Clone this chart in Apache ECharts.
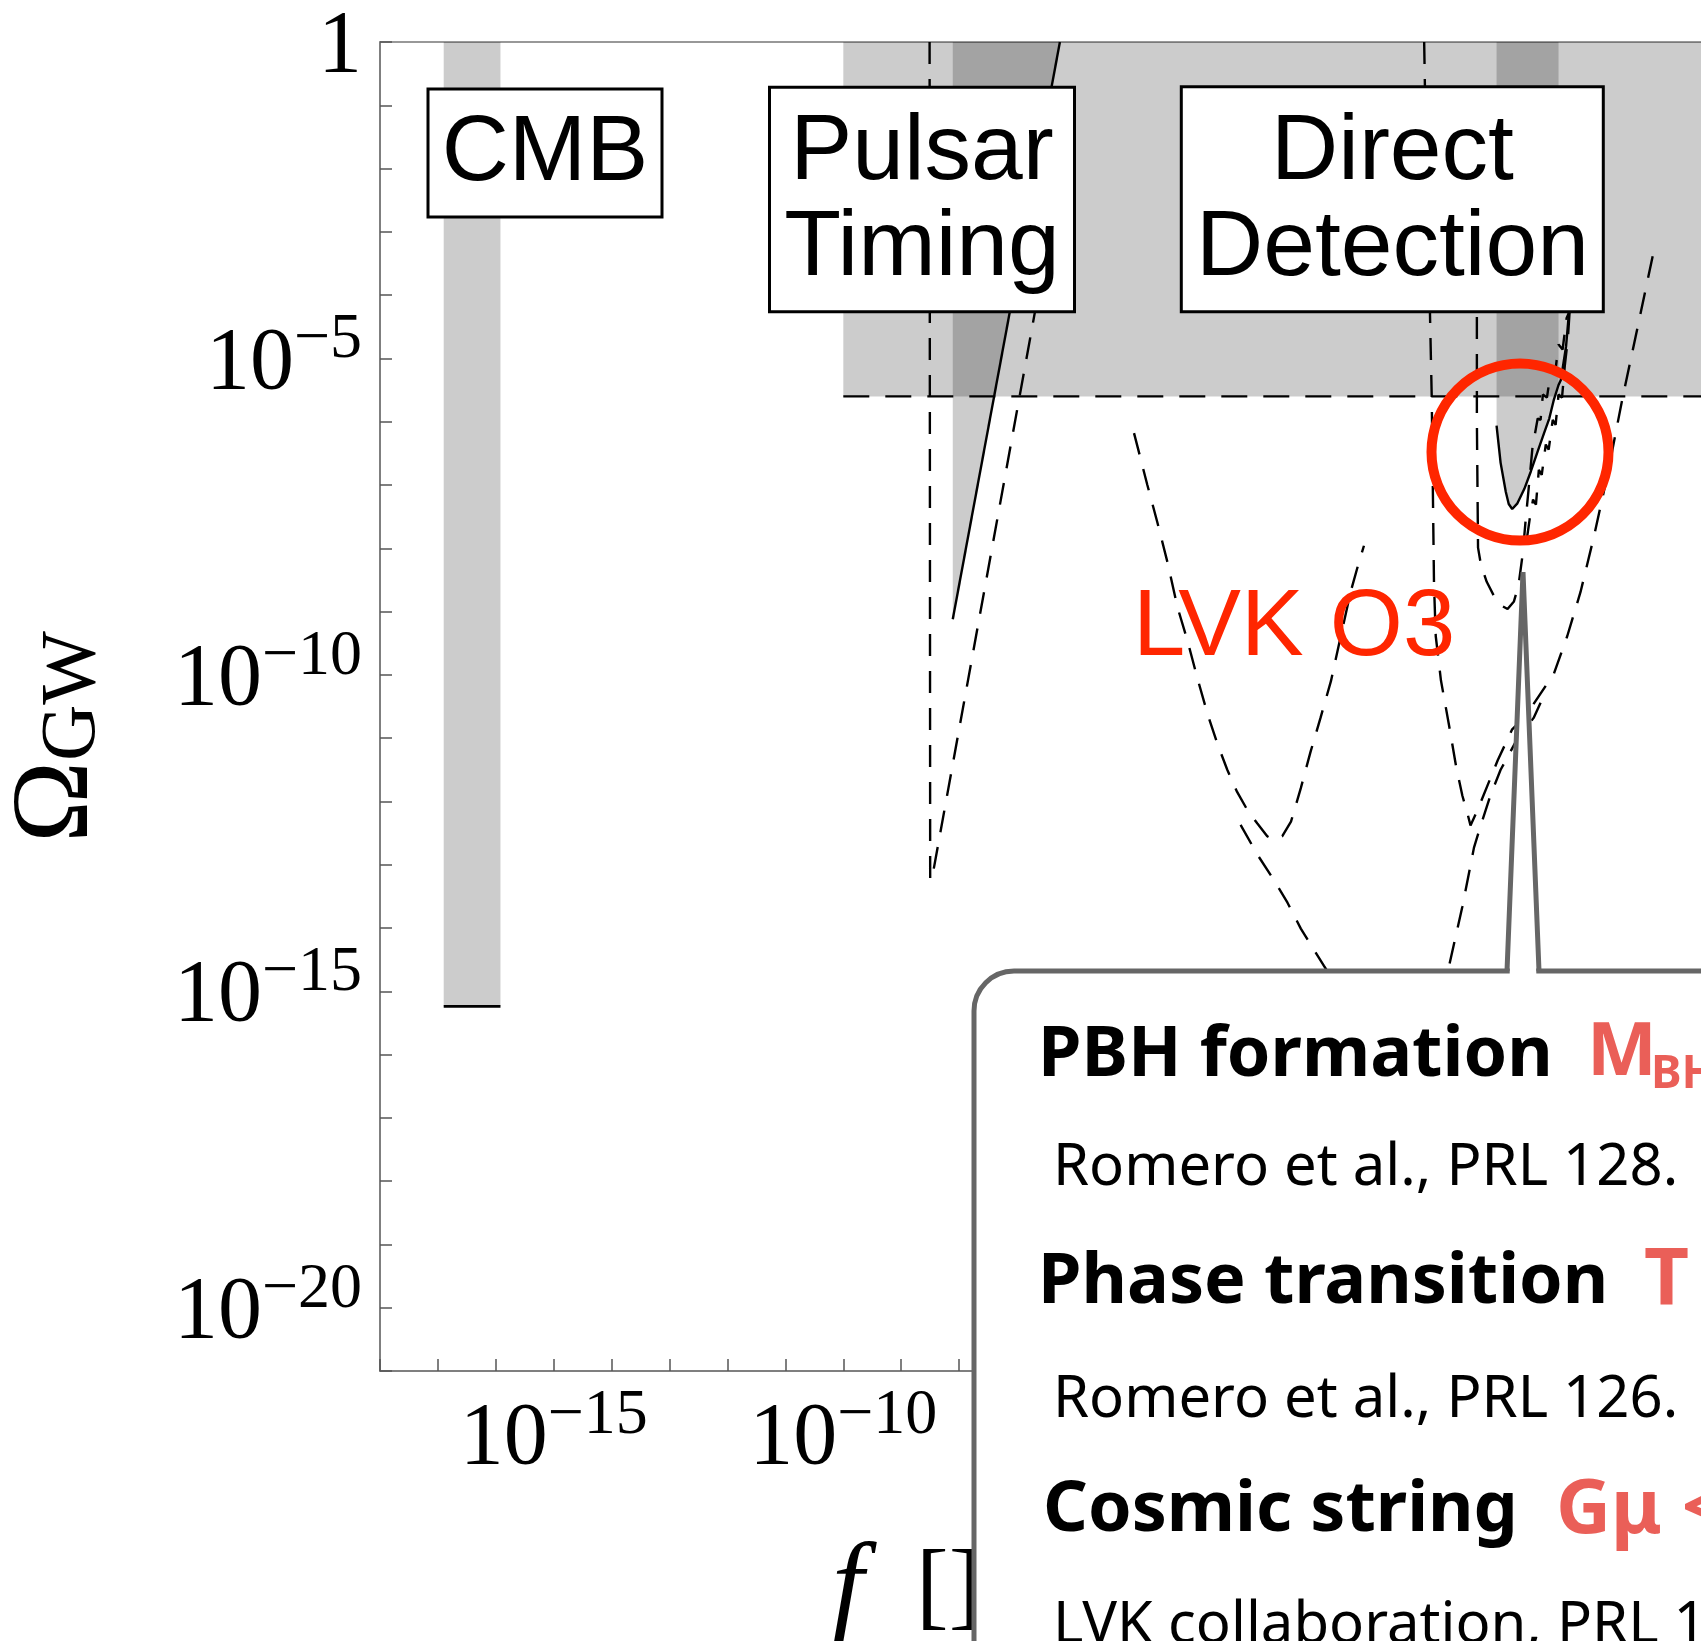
<!DOCTYPE html>
<html><head><meta charset="utf-8">
<script src="https://cdn.jsdelivr.net/npm/echarts@6/dist/echarts.min.js"></script>
<style>html,body{margin:0;padding:0;background:#fff}#c{width:1701px;height:1641px}</style>
</head><body><div id="c"></div>
<script>
// ---- axis ranges (log10 units) ----
const xLogMin = -18, xLogMax = 5;
const yLogMin = -21, yLogMax = 0;
const labelStep = 5;

// ---- data: [log10 f, log10 Omega_GW] ----
const cmbBand   = [[-16.90, -15.24], [-15.92, -15.24]];
const bbnLimit  = [[-10.0, -5.6], [5.0, -5.6]];
const ptaBound  = [[-8.11, -9.12], [-6.26, 0.0]];
const skaCurve  = [[-8.51, 0.0], [-8.50, -13.21], [-8.475, -13.25], [-6.69, -4.26], [-6.30, -2.2]];
const lisaCurve = [[-4.98, -6.18], [-4.75, -7.00], [-4.58, -7.58], [-4.40, -8.23], [-4.23, -8.93], [-4.06, -9.45],
  [-3.89, -10.04], [-3.71, -10.62], [-3.54, -11.09], [-3.37, -11.50], [-3.20, -11.85], [-3.02, -12.14],
  [-2.85, -12.35], [-2.68, -12.55], [-2.56, -12.61], [-2.42, -12.55], [-2.27, -12.32], [-2.10, -11.79],
  [-1.93, -11.21], [-1.76, -10.68], [-1.58, -10.10], [-1.41, -9.39], [-1.24, -8.69], [-1.10, -8.23], [-1.01, -7.96]];
const midCurve  = [[-3.14, -12.37], [-2.85, -12.84], [-2.56, -13.25], [-2.33, -13.60], [-2.10, -14.01], [-1.70, -14.60], [-1.33, -15.13]];
const etCurve   = [[0.03, 0.0], [0.09, -3.28], [0.13, -4.28], [0.16, -5.59], [0.20, -8.58], [0.23, -9.39], [0.32, -10.09],
  [0.46, -10.80], [0.58, -11.44], [0.69, -11.91], [0.78, -12.20], [0.83, -12.38], [0.95, -12.14], [1.18, -11.62],
  [1.30, -11.35], [1.55, -10.86], [1.78, -10.65], [2.27, -9.98], [2.50, -9.39], [2.73, -8.69], [2.96, -7.82],
  [3.20, -6.82], [3.45, -5.65], [4.00, -3.28]];
const ceCurve   = [[0.32, -15.13], [0.46, -14.60], [0.69, -13.66], [0.89, -12.73], [1.01, -12.37], [1.18, -11.89],
  [1.35, -11.50], [1.61, -11.06], [1.92, -10.68], [2.04, -10.44]];
const ligoCurve = [[0.94, -3.76], [0.94, -5.97], [0.96, -7.99], [1.01, -8.26], [1.11, -8.53], [1.25, -8.78], [1.37, -8.91],
  [1.47, -8.96], [1.58, -8.84], [1.66, -8.58], [1.73, -8.10], [1.78, -7.58], [1.84, -7.00], [1.90, -6.41], [1.99, -5.95],
  [2.04, -5.97], [2.08, -5.57], [2.15, -5.62], [2.22, -5.18], [2.29, -5.24], [2.35, -4.78], [2.42, -4.86], [2.49, -4.36],
  [2.53, -4.28], [2.58, -3.70]];
const o3Jagged  = [[1.80, -7.87], [1.85, -7.55], [1.91, -7.23], [1.96, -7.31], [2.01, -6.76], [2.06, -6.84], [2.13, -6.36],
  [2.18, -6.44], [2.25, -5.97], [2.30, -6.05], [2.35, -5.57], [2.41, -5.62], [2.46, -5.10], [2.51, -4.70], [2.54, -4.28], [2.58, -3.70]];
const lvkO3Curve = [[1.28, -6.06], [1.35, -6.65], [1.44, -7.11], [1.49, -7.30], [1.55, -7.38], [1.64, -7.29], [1.76, -7.06],
  [1.87, -6.79], [1.99, -6.47], [2.10, -6.18], [2.19, -5.95], [2.27, -5.65], [2.35, -5.42], [2.39, -5.34], [2.48, -4.81],
  [2.53, -4.28], [2.57, -3.70]];
const lvkFillMaxLogF = 2.35;

const boxLabels = ['CMB', 'Pulsar\nTiming', 'Direct\nDetection'];
const infoLines = ['PBH formation', 'Romero et al., PRL 128.', 'Phase transition', 'Romero et al., PRL 126.', 'Cosmic string', 'LVK collaboration, PRL 1'];

// ---- styling ----
const shade = 'rgba(0,0,0,0.2)';
const dash = [22, 15];
function tickLabel(v) {
  if (Math.round(v) % labelStep !== 0) return '';
  if (v === 0) return '{b|1}';
  return v < 0 ? '{b|10}{s|\u2212' + (-v) + '}' : '{b|10}{s|' + v + '}';
}
const labelRich = {
  b: { fontFamily: 'Liberation Serif', fontSize: 88, lineHeight: 100, color: '#000', verticalAlign: 'bottom' },
  s: { fontFamily: 'Liberation Serif', fontSize: 64, lineHeight: 58, color: '#000', verticalAlign: 'top' }
};
function lineSeries(data, opts) {
  return Object.assign({ type: 'line', data: data, symbol: 'none', silent: true, z: 3,
    lineStyle: { color: '#000', width: 2.4, type: dash } }, opts || {});
}
const areaFill = { origin: 'end', color: shade, opacity: 1 };
const lvkFill = lvkO3Curve.filter(p => p[0] <= lvkFillMaxLogF);

const red = '#ff2600', pink = '#ea5f58';
const sans = 'Noto Sans';
const axisCommon = {
  type: 'value', interval: 1,
  axisLine: { show: true, onZero: false, lineStyle: { color: '#777', width: 1.5 } },
  axisTick: { show: true, inside: true, length: 12, interval: 0, lineStyle: { color: '#555', width: 1.5 } },
  splitLine: { show: false }
};

const option = {
  animation: false,
  backgroundColor: '#fff',
  grid: { left: 380, top: 42, width: 1332, height: 1329, show: true, borderColor: '#777', borderWidth: 1.5,
          backgroundColor: 'transparent', outerBoundsMode: 'none', containLabel: false },
  xAxis: Object.assign({}, axisCommon, { min: xLogMin, max: xLogMax, position: 'bottom',
    axisLabel: { interval: 0, margin: 13, formatter: tickLabel, rich: labelRich } }),
  yAxis: Object.assign({}, axisCommon, { min: yLogMin, max: yLogMax, position: 'left',
    axisLabel: { interval: 0, margin: 18, formatter: tickLabel, rich: labelRich } }),
  series: [
    lineSeries(bbnLimit, { lineStyle: { color: '#000', width: 2.4, type: [26, 16] }, areaStyle: areaFill }),
    lineSeries(cmbBand, { lineStyle: { color: '#000', width: 2.8, type: 'solid' }, areaStyle: areaFill }),
    lineSeries(ptaBound, { lineStyle: { color: '#000', width: 2.4, type: 'solid' }, areaStyle: areaFill }),
    lineSeries(lvkFill, { lineStyle: { width: 0, opacity: 0 }, areaStyle: areaFill }),
    lineSeries(lvkO3Curve, { lineStyle: { color: '#000', width: 2.4, type: 'solid' } }),
    lineSeries(skaCurve),
    lineSeries(lisaCurve),
    lineSeries(midCurve),
    lineSeries(etCurve),
    lineSeries(ceCurve),
    lineSeries(ligoCurve),
    lineSeries(o3Jagged)
  ],
  graphic: [
    // labelled boxes
    { type: 'rect', z: 50, shape: { x: 428, y: 89, width: 234, height: 128 }, style: { fill: '#fff', stroke: '#000', lineWidth: 3 } },
    { type: 'text', z: 51, x: 545, y: 154, style: { text: boxLabels[0], fontFamily: 'Liberation Sans', fontSize: 93, fill: '#000', align: 'center', verticalAlign: 'middle' } },
    { type: 'rect', z: 50, shape: { x: 769.5, y: 87.3, width: 305, height: 224.4 }, style: { fill: '#fff', stroke: '#000', lineWidth: 3 } },
    { type: 'text', z: 51, x: 922, y: 201, style: { text: boxLabels[1], fontFamily: 'Liberation Sans', fontSize: 93, lineHeight: 96, fill: '#000', align: 'center', verticalAlign: 'middle' } },
    { type: 'rect', z: 50, shape: { x: 1181.3, y: 86.7, width: 422, height: 225 }, style: { fill: '#fff', stroke: '#000', lineWidth: 3 } },
    { type: 'text', z: 51, x: 1392.5, y: 201, style: { text: boxLabels[2], fontFamily: 'Liberation Sans', fontSize: 93, lineHeight: 96, fill: '#000', align: 'center', verticalAlign: 'middle' } },
    // LVK O3 annotation
    { type: 'text', z: 52, x: 1133, y: 629, style: { text: 'LVK O3', fontFamily: 'Liberation Sans', fontSize: 94, fill: red, align: 'left', verticalAlign: 'middle' } },
    { type: 'circle', z: 52, shape: { cx: 1520, cy: 452, r: 88.5 }, style: { fill: 'none', stroke: red, lineWidth: 10 } },
    // axis titles
    { type: 'text', z: 40, x: 58, y: 737, rotation: Math.PI / 2,
      style: { text: '{o|\u03A9}{s|GW}', align: 'center', verticalAlign: 'middle',
        rich: { o: { fontFamily: 'Liberation Serif', fontSize: 110, lineHeight: 110, color: '#000' },
                s: { fontFamily: 'Liberation Serif', fontSize: 78, lineHeight: 40, verticalAlign: 'bottom', color: '#000' } } } },
    { type: 'text', z: 40, x: 832, y: 1592, style: { text: 'f', fontFamily: 'Liberation Serif', fontStyle: 'italic', fontSize: 114, fill: '#000', align: 'left', verticalAlign: 'middle' } },
    { type: 'text', z: 40, x: 916, y: 1591, style: { text: '[]', fontFamily: 'Liberation Serif', fontSize: 98, fill: '#000', align: 'left', verticalAlign: 'middle' } },
    // callout box with pointer
    { type: 'rect', z: 60, shape: { x: 974, y: 971, width: 900, height: 900, r: 40 }, style: { fill: '#fff', stroke: '#666', lineWidth: 5 } },
    { type: 'polygon', z: 61, shape: { points: [[1509.6, 976], [1523, 576], [1536.4, 976]] }, style: { fill: '#fff', stroke: null } },
    { type: 'polyline', z: 62, shape: { points: [[1507, 971], [1523, 572], [1539, 971]] }, style: { fill: null, stroke: '#666', lineWidth: 5, lineJoin: 'miter' } },
    { type: 'text', z: 63, x: 1038, y: 1056, style: { text: infoLines[0], fontFamily: sans, fontWeight: 'bold', fontSize: 70, fill: '#000', align: 'left', verticalAlign: 'middle' } },
    { type: 'text', z: 63, x: 1587, y: 1054, style: { text: 'M', fontFamily: sans, fontWeight: 'bold', fontSize: 74, fill: pink, align: 'left', verticalAlign: 'middle' } },
    { type: 'text', z: 63, x: 1651, y: 1075, style: { text: 'BH', fontFamily: sans, fontWeight: 'bold', fontSize: 46, fill: pink, align: 'left', verticalAlign: 'middle' } },
    { type: 'text', z: 63, x: 1053, y: 1168, style: { text: infoLines[1], fontFamily: sans, fontSize: 58, fill: '#000', align: 'left', verticalAlign: 'middle' } },
    { type: 'text', z: 63, x: 1038, y: 1283, style: { text: infoLines[2], fontFamily: sans, fontWeight: 'bold', fontSize: 70, fill: '#000', align: 'left', verticalAlign: 'middle' } },
    { type: 'text', z: 63, x: 1644, y: 1282, style: { text: 'T', fontFamily: sans, fontWeight: 'bold', fontSize: 78, fill: pink, align: 'left', verticalAlign: 'middle' } },
    { type: 'text', z: 63, x: 1053, y: 1400, style: { text: infoLines[3], fontFamily: sans, fontSize: 58, fill: '#000', align: 'left', verticalAlign: 'middle' } },
    { type: 'text', z: 63, x: 1043, y: 1511, style: { text: infoLines[4], fontFamily: sans, fontWeight: 'bold', fontSize: 70, fill: '#000', align: 'left', verticalAlign: 'middle' } },
    { type: 'text', z: 63, x: 1556, y: 1511, style: { text: 'G\u03BC <', fontFamily: sans, fontWeight: 'bold', fontSize: 76, fill: pink, align: 'left', verticalAlign: 'middle' } },
    { type: 'text', z: 63, x: 1053, y: 1626, style: { text: infoLines[5], fontFamily: sans, fontSize: 58, fill: '#000', align: 'left', verticalAlign: 'middle' } }
  ]
};
const chart = echarts.init(document.getElementById('c'), null, { renderer: 'canvas' });
chart.setOption(option);
</script></body></html>
